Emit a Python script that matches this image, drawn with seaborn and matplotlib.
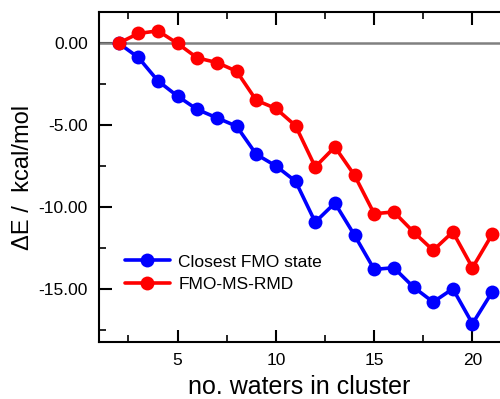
import matplotlib
matplotlib.use("Agg")
import matplotlib.pyplot as plt
import seaborn as sns
import pandas as pd
from matplotlib.ticker import MultipleLocator, FormatStrFormatter

waters = list(range(2, 22))
closest_fmo = [0.0, -0.87, -2.3, -3.23, -4.04, -4.55, -5.06, -6.77, -7.48, -8.41,
               -10.9, -9.74, -11.7, -13.78, -13.68, -14.86, -15.77, -14.96, -17.09, -15.16]
fmo_ms_rmd = [0.0, 0.59, 0.75, -0.02, -0.9, -1.18, -1.71, -3.48, -3.98, -5.03,
              -7.54, -6.32, -8.05, -10.39, -10.28, -11.5, -12.62, -11.5, -13.68, -11.65]
series_names = ["Closest FMO state", "FMO-MS-RMD"]

df = pd.concat([
    pd.DataFrame({"x": waters, "y": closest_fmo, "series": series_names[0]}),
    pd.DataFrame({"x": waters, "y": fmo_ms_rmd, "series": series_names[1]}),
])

sns.set_style("white")
plt.rcParams["font.family"] = ["Liberation Sans", "DejaVu Sans"]
plt.rcParams["text.color"] = "black"
plt.rcParams["axes.labelcolor"] = "black"
plt.rcParams["xtick.color"] = "black"
plt.rcParams["ytick.color"] = "black"

fig = plt.figure(figsize=(5.0, 3.99), dpi=100)
ax = fig.add_axes([0.198, 0.143, 0.802, 0.827])

ax.axhline(0, color="#808080", lw=1.8, zorder=1)
sns.lineplot(data=df, x="x", y="y", hue="series", palette=["#0000ff", "#ff0000"],
             marker="o", markersize=10, markeredgewidth=0, linewidth=2.6,
             ax=ax, zorder=3)

ax.set_xlim(1.0, 21.4)
ax.set_ylim(-18.2, 1.9)
ax.xaxis.set_major_locator(MultipleLocator(5))
ax.xaxis.set_minor_locator(MultipleLocator(2.5))
ax.yaxis.set_major_locator(MultipleLocator(5))
ax.yaxis.set_minor_locator(MultipleLocator(2.5))
ax.yaxis.set_major_formatter(FormatStrFormatter("%.2f"))

for s in ["left", "bottom", "top"]:
    ax.spines[s].set_visible(True)
    ax.spines[s].set_color("black")
    ax.spines[s].set_linewidth(1.5)
ax.spines["right"].set_visible(False)

ax.tick_params(which="major", direction="in", length=9, width=1.5, top=True,
               left=True, bottom=True, right=False, labelsize=12.5, pad=8)
ax.tick_params(which="minor", direction="in", length=5, width=1.2, top=True,
               left=True, bottom=True, right=False)

ax.set_xlabel("no. waters in cluster", fontsize=18, labelpad=5)
ax.set_ylabel("ΔE /  kcal/mol", fontsize=17, labelpad=3)

leg = ax.legend(loc="lower left", bbox_to_anchor=(0.025, 0.105), frameon=False,
                fontsize=12.5, handlelength=2.6, handletextpad=0.5, labelspacing=0.4)

fig.savefig("out.png", dpi=100)
